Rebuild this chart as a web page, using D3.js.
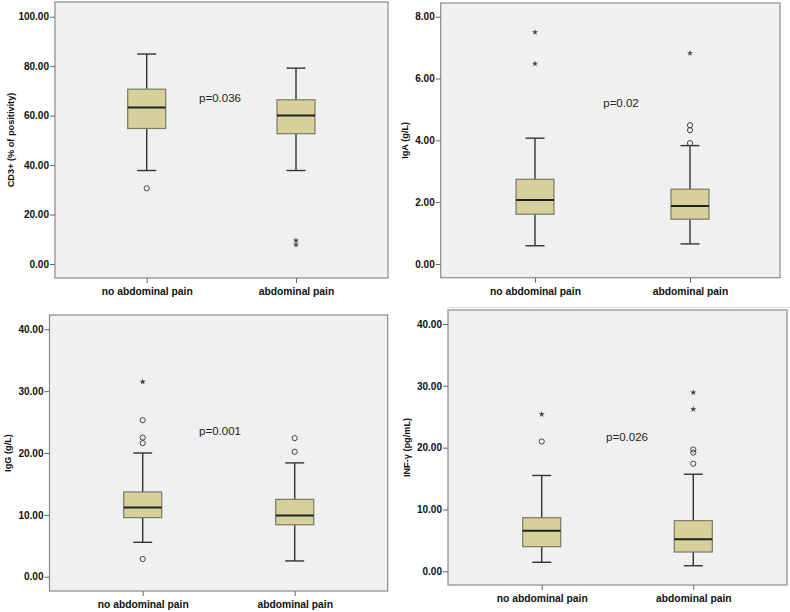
<!DOCTYPE html>
<html><head><meta charset="utf-8">
<script src="https://cdn.jsdelivr.net/npm/d3@7"></script>
<style>body{margin:0;background:#fff}svg{display:block;font-family:Arial,"Liberation Sans",sans-serif}</style>
</head><body><svg id="c" width="790" height="612"></svg>
<script>
// ---- data ----
const categories = ["no abdominal pain", "abdominal pain"];

const cd3Box = [[37.8, 54.8, 63.3, 70.7, 84.9], [37.8, 52.7, 60.0, 66.4, 79.2]]; // [min,q1,median,q3,max]
const cd3Circles = [[30.6], []];
const cd3Stars = [[], [9.5, 7.8]];
const cd3Ticks = [0, 20, 40, 60, 80, 100];

const igaBox = [[0.59, 1.61, 2.07, 2.74, 4.07], [0.65, 1.45, 1.88, 2.42, 3.83]];
const igaCircles = [[], [4.49, 4.33, 3.91]];
const igaStars = [[7.5, 6.48], [6.82]];
const igaTicks = [0, 2, 4, 6, 8];

const iggBox = [[5.56, 9.55, 11.2, 13.7, 20.0], [2.55, 8.4, 9.9, 12.5, 18.4]];
const iggCircles = [[2.86, 25.3, 22.5, 21.6], [22.4, 20.2]];
const iggStars = [[31.5], []];
const iggTicks = [0, 10, 20, 30, 40];

const infBox = [[1.46, 3.98, 6.57, 8.67, 15.5], [0.9, 3.12, 5.18, 8.19, 15.7]];
const infCircles = [[21.0], [19.7, 19.2, 17.4]];
const infStars = [[25.4], [28.9, 26.2]];
const infTicks = [0, 10, 20, 30, 40];

const yTitles = ["CD3+ (% of positivity)", "IgA (g/L)", "IgG (g/L)", "INF-\u03b3 (pg/mL)"];
const pTexts = ["p=0.036", "p=0.02", "p=0.001", "p=0.026"];
const pValuesAt = [67, 5.2, 23.5, 21.8]; // vertical position of p text in data units

// ---- layout ----
const panels = [
  {box: cd3Box, circ: cd3Circles, star: cd3Stars, ticks: cd3Ticks, title: yTitles[0], p: pTexts[0], pv: pValuesAt[0],
   fx0: 55, fx1: 388, fy0: 2, fy1: 278, y0: 264, yTop: 16.7, cx: [146.7, 296], px: 220, tx: 14},
  {box: igaBox, circ: igaCircles, star: igaStars, ticks: igaTicks, title: yTitles[1], p: pTexts[1], pv: pValuesAt[1],
   fx0: 440.7, fx1: 780, fy0: 3, fy1: 277.7, y0: 264, yTop: 16.7, cx: [535, 690], px: 621, tx: 408},
  {box: iggBox, circ: iggCircles, star: iggStars, ticks: iggTicks, title: yTitles[2], p: pTexts[2], pv: pValuesAt[2],
   fx0: 49.5, fx1: 387.7, fy0: 315, fy1: 591, y0: 576.7, yTop: 329.3, cx: [142.7, 294.7], px: 220, tx: 11},
  {box: infBox, circ: infCircles, star: infStars, ticks: infTicks, title: yTitles[3], p: pTexts[3], pv: pValuesAt[3],
   fx0: 448, fx1: 787, fy0: 310, fy1: 585, y0: 571.3, yTop: 324, cx: [541.7, 693.3], px: 627, tx: 410}
];

const svg = d3.select("#c");
svg.append("line").attr("x1", 447).attr("x2", 790).attr("y1", 307.5).attr("y2", 307.5)
  .attr("stroke", "#dcdcdc").attr("stroke-width", 1);

const BOXW = 38, CAPW = 19;

panels.forEach(P => {
  const g = svg.append("g");
  const yMax = P.ticks[P.ticks.length - 1];
  const y = d3.scaleLinear().domain([0, yMax]).range([P.y0, P.yTop]);
  const x = d3.scalePoint().domain(categories).range(P.cx).padding(0);

  g.append("rect").attr("x", P.fx0).attr("y", P.fy0)
    .attr("width", P.fx1 - P.fx0).attr("height", P.fy1 - P.fy0)
    .attr("fill", "#f0f0f0").attr("stroke", "#8a8a8a").attr("stroke-width", 1.2);

  // y axis
  const ya = g.append("g").attr("transform", `translate(${P.fx0},0)`)
    .call(d3.axisLeft(y).tickValues(P.ticks).tickFormat(d3.format(".2f")).tickSize(5).tickPadding(1));
  ya.select(".domain").remove();
  ya.selectAll(".tick line").attr("stroke", "#666");
  ya.selectAll("text").attr("font-size", 10).attr("font-weight", "bold").attr("fill", "#111")
    .attr("font-family", "Arial, 'Liberation Sans', sans-serif");

  // x axis
  const xa = g.append("g").attr("transform", `translate(0,${P.fy1})`)
    .call(d3.axisBottom(x).tickSize(5).tickPadding(5));
  xa.select(".domain").remove();
  xa.selectAll(".tick line").attr("stroke", "#666");
  xa.selectAll("text").attr("font-size", 10.3).attr("font-weight", "bold").attr("fill", "#111")
    .attr("font-family", "Arial, 'Liberation Sans', sans-serif");

  // y title
  g.append("text").attr("transform", `translate(${P.tx},${(P.fy0 + P.fy1) / 2}) rotate(-90)`)
    .attr("text-anchor", "middle").attr("font-size", 9.2).attr("font-weight", "bold").attr("fill", "#111")
    .text(P.title);

  // boxes
  categories.forEach((c, i) => {
    const [mn, q1, md, q3, mx] = P.box[i];
    const cx = x(c);
    const bg = g.append("g");
    bg.append("line").attr("x1", cx).attr("x2", cx).attr("y1", y(mx)).attr("y2", y(q3))
      .attr("stroke", "#333").attr("stroke-width", 1.4);
    bg.append("line").attr("x1", cx).attr("x2", cx).attr("y1", y(q1)).attr("y2", y(mn))
      .attr("stroke", "#333").attr("stroke-width", 1.4);
    [mn, mx].forEach(v => bg.append("line").attr("x1", cx - CAPW / 2).attr("x2", cx + CAPW / 2)
      .attr("y1", y(v)).attr("y2", y(v)).attr("stroke", "#333").attr("stroke-width", 1.4));
    bg.append("rect").attr("x", cx - BOXW / 2).attr("y", y(q3)).attr("width", BOXW).attr("height", y(q1) - y(q3))
      .attr("fill", "#d5d09c").attr("stroke", "#7c7a62").attr("stroke-width", 1.2);
    bg.append("line").attr("x1", cx - BOXW / 2).attr("x2", cx + BOXW / 2).attr("y1", y(md)).attr("y2", y(md))
      .attr("stroke", "#222").attr("stroke-width", 2);
    P.circ[i].forEach(v => bg.append("circle").attr("cx", cx).attr("cy", y(v)).attr("r", 2.6)
      .attr("fill", "none").attr("stroke", "#444").attr("stroke-width", 1));
    P.star[i].forEach(v => bg.append("path").attr("transform", `translate(${cx},${y(v)})`)
      .attr("d", d3.symbol(d3.symbolStar, 12)()).attr("fill", "#444"));
  });

  // p value
  g.append("text").attr("x", P.px).attr("y", y(P.pv)).attr("dy", "0.35em").attr("text-anchor", "middle")
    .attr("font-size", 11.5).attr("fill", "#222").text(P.p);
});
</script></body></html>
